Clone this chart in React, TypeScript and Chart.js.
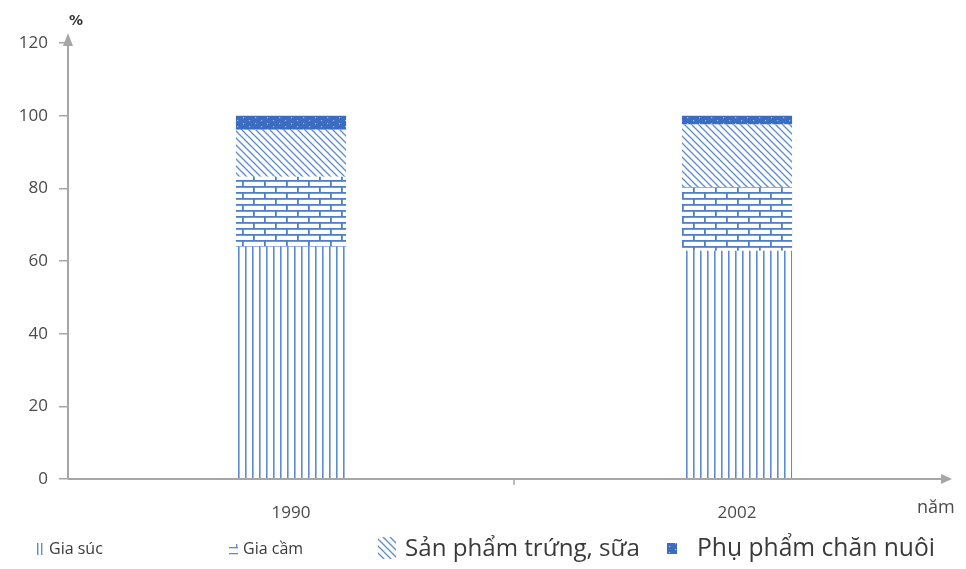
import React, { useEffect, useRef } from "react";
import { Chart, registerables } from "chart.js";

Chart.register(...registerables);

const years = ["1990", "2002"];
const giaSuc = [63.9, 62.8];
const giaCam = [19.3, 17.5];
const trungSua = [12.9, 17.3];
const phuPham = [3.9, 2.4];
const yMin = 0;
const yMax = 120;
const yStep = 20;
const seriesNames = ["Gia súc", "Gia cầm", "Sản phẩm trứng, sữa", "Phụ phẩm chăn nuôi"];
const yUnit = "%";
const xUnit = "năm";

const BLUE = "#5b8bd3";
const DARK_BLUE = "#3b6cc0";
const AXIS = "#a6a6a6";
const TEXT = "#4a4a4a";

function makePattern(kind: string): CanvasPattern | string {
  const c = document.createElement("canvas");
  const ctx = c.getContext("2d")!;
  if (kind === "vertical") {
    c.width = 7; c.height = 10;
    ctx.fillStyle = "#ffffff"; ctx.fillRect(0, 0, 7, 10);
    ctx.fillStyle = BLUE; ctx.fillRect(0, 0, 1.6, 10);
  } else if (kind === "brick") {
    c.width = 22; c.height = 12;
    ctx.fillStyle = "#ffffff"; ctx.fillRect(0, 0, 22, 12);
    ctx.fillStyle = "#4f7fc8";
    ctx.fillRect(0, 0, 22, 1.8);
    ctx.fillRect(0, 6, 22, 1.8);
    ctx.fillRect(0, 0, 1.8, 6);
    ctx.fillRect(11, 6, 1.8, 6);
  } else if (kind === "diag") {
    c.width = 7; c.height = 7;
    ctx.fillStyle = "#ffffff"; ctx.fillRect(0, 0, 7, 7);
    ctx.strokeStyle = BLUE; ctx.lineWidth = 1.3;
    ctx.beginPath();
    ctx.moveTo(-1, -1); ctx.lineTo(8, 8);
    ctx.moveTo(-1, 6); ctx.lineTo(1, 8);
    ctx.moveTo(6, -1); ctx.lineTo(8, 1);
    ctx.stroke();
  } else {
    c.width = 12; c.height = 6;
    ctx.fillStyle = DARK_BLUE; ctx.fillRect(0, 0, 12, 6);
    ctx.fillStyle = "rgba(200,220,255,0.7)";
    ctx.fillRect(3, 3, 1.2, 1.2);
    ctx.fillRect(9, 0, 1.2, 1.2);
  }
  return ctx.createPattern(c, "repeat") || BLUE;
}

export default function App() {
  const ref = useRef<HTMLCanvasElement | null>(null);
  useEffect(() => {
    if (!ref.current) return;
    const pats = [makePattern("vertical"), makePattern("brick"), makePattern("diag"), makePattern("solid")];
    const series = [giaSuc, giaCam, trungSua, phuPham];

    const decor = {
      id: "decor",
      afterDraw(chart: any) {
        const ctx = chart.ctx as CanvasRenderingContext2D;
        const a = chart.chartArea;
        ctx.save();
        const y0 = chart.scales.y.getPixelForValue(0);
        ctx.strokeStyle = AXIS; ctx.fillStyle = AXIS; ctx.lineWidth = 2;
        ctx.beginPath(); ctx.moveTo(a.left, y0); ctx.lineTo(a.right - 14, y0); ctx.stroke();
        ctx.beginPath();
        ctx.moveTo(a.right - 8, y0);
        ctx.lineTo(a.right - 19, y0 - 5);
        ctx.lineTo(a.right - 19, y0 + 5);
        ctx.closePath(); ctx.fill();
        const mid = (a.left + a.right) / 2;
        ctx.lineWidth = 1.5;
        ctx.beginPath(); ctx.moveTo(mid, y0); ctx.lineTo(mid, y0 + 6); ctx.stroke();
        ctx.beginPath();
        ctx.moveTo(a.left, a.top - 10);
        ctx.lineTo(a.left - 5, a.top + 3);
        ctx.lineTo(a.left + 5, a.top + 3);
        ctx.closePath(); ctx.fill();
        ctx.fillStyle = "#333";
        ctx.font = "bold 14px 'DejaVu Sans'";
        ctx.textAlign = "center"; ctx.textBaseline = "middle";
        ctx.fillText(yUnit, a.left + 8, 21);
        ctx.fillStyle = TEXT;
        ctx.font = "18px 'Open Sans'";
        ctx.textAlign = "left";
        ctx.fillText(xUnit, 917, 508);

        const ly = 549;
        const items = [
          { icon: [36, 543, 9, 12], tx: 49, size: 16, tw: 0 },
          { icon: [229, 544, 9, 10], tx: 243, size: 16, tw: 0 },
          { icon: [378, 537, 18, 22], tx: 405, size: 0, tw: 235 },
          { icon: [667, 543, 10, 11], tx: 697, size: 0, tw: 238 },
        ];
        items.forEach((it, i) => {
          const [ix, iy, iw, ih] = it.icon;
          if (i === 0) {
            ctx.fillStyle = BLUE;
            ctx.fillRect(ix + 1, iy, 1.4, ih);
            ctx.fillRect(ix + 5, iy, 1.4, ih);
          } else if (i === 1) {
            ctx.fillStyle = BLUE;
            ctx.fillRect(ix, iy + 3, iw, 1.3);
            ctx.fillRect(ix, iy + ih - 1, iw, 1.3);
            ctx.fillRect(ix + iw - 2, iy, 1.3, 4);
          } else {
            ctx.fillStyle = pats[i] as any;
            ctx.fillRect(ix, iy, iw, ih);
          }
          ctx.fillStyle = "#3a3a3a";
          let size = it.size;
          if (!size) {
            ctx.font = "20px 'Open Sans'";
            const w = ctx.measureText(seriesNames[i]).width;
            size = (20 * it.tw) / w;
          }
          ctx.font = `${size.toFixed(2)}px 'Open Sans'`;
          ctx.textAlign = "left"; ctx.textBaseline = "middle";
          ctx.fillText(seriesNames[i], it.tx, ly);
        });
        ctx.restore();
      },
    };

    const chart = new Chart(ref.current, {
      type: "bar",
      data: {
        labels: years,
        datasets: series.map((d, i) => ({
          label: seriesNames[i],
          data: d,
          backgroundColor: pats[i] as any,
          borderWidth: 0,
          barPercentage: 0.247,
          categoryPercentage: 1,
        })),
      },
      options: {
        animation: false,
        responsive: true,
        maintainAspectRatio: false,
        layout: { padding: { top: 43, right: 6, left: 0, bottom: 0 } },
        plugins: { legend: { display: false }, tooltip: { enabled: false } },
        scales: {
          x: {
            stacked: true,
            grid: { display: false },
            border: { display: false },
            ticks: { padding: 16, color: TEXT, font: { family: "'Open Sans'", size: 17 } },
            afterFit: (s: any) => { s.height = 90; },
          },
          y: {
            stacked: true,
            min: yMin,
            max: yMax,
            ticks: { stepSize: yStep, padding: 11, color: TEXT, font: { family: "'Open Sans'", size: 17 } },
            grid: { drawOnChartArea: false, drawTicks: true, tickLength: 9, color: AXIS, lineWidth: 1.5 },
            border: { display: true, color: AXIS, width: 2 },
            afterFit: (s: any) => { s.width = 68; },
          },
        },
      },
      plugins: [decor],
    });
    return () => chart.destroy();
  }, []);

  return (
    <div style={{ position: "fixed", left: 0, top: 0, width: 966, height: 569, background: "#fff" }}>
      <canvas ref={ref} />
    </div>
  );
}
